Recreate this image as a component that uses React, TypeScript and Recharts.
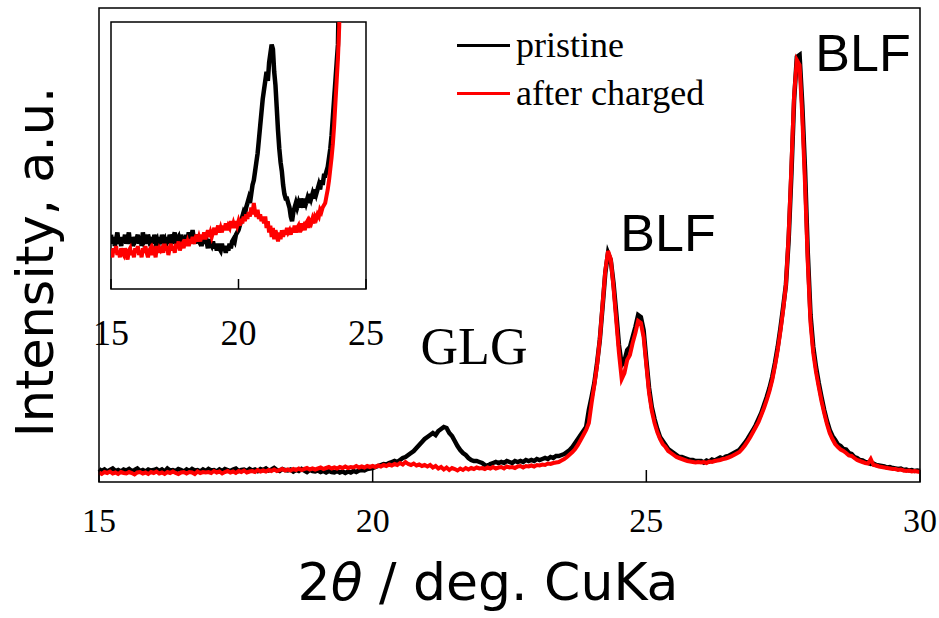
import React from "react";
import { LineChart, Line, XAxis, YAxis, ReferenceArea, Legend } from "recharts";

// 2θ grid, 15–30 deg in 0.05 deg steps
const theta: number[] = Array.from({ length: 301 }, (_, i) => Math.round((15 + i * 0.05) * 100) / 100);

// intensity (arbitrary units), one row per degree
const pristine: number[] = [
  16, 14, 15.5, 13.5, 15, 16.5, 14, 15, 13.5, 15.5, 14.5, 16, 14, 15, 16.5, 14, 15, 13.5, 15.5, 14.5,
  15, 16, 14, 15.5, 13.5, 16.5, 14.5, 15, 14, 16, 15, 13.5, 15.5, 14, 16, 14.5, 15, 13.5, 15.5, 14,
  16, 14.5, 15, 13.5, 15.5, 14, 16, 15, 14, 15.5, 16.5, 14, 15, 15.5, 14, 16, 14.5, 15.5, 14, 16,
  15, 16.5, 14.5, 15.5, 17, 15, 14, 16, 15, 14.5, 15.5, 13.5, 15, 14, 16, 14.5, 13, 15, 14, 13.5,
  14.5, 13, 14, 12.5, 14, 13, 12.5, 14, 12.5, 13.5, 12, 13.5, 12.5, 14, 13, 14.5, 15, 14.5, 16, 16.5,
  17, 18, 19, 20, 21, 20.5, 22, 23, 24, 23, 25, 27, 28, 30, 32, 34, 37, 40, 43, 46,
  48, 50, 52, 50, 54, 56, 58, 57, 52, 49, 44, 39, 35, 32, 30, 27, 25, 24, 24, 23,
  22, 20, 19, 21, 22, 23, 22, 23, 22, 24, 23, 22, 24, 23, 24, 23, 25, 24, 25, 24,
  26, 25, 26, 27, 26, 28, 27, 29, 29, 30, 31, 33, 35, 38, 42, 46, 50, 54, 58, 75,
  88, 102, 122, 145, 178, 212, 232, 225, 202, 172, 140, 120, 124, 135, 138, 148, 158, 170, 168, 155,
  125, 97, 78, 66, 56, 48, 44, 40, 36, 34, 32, 30, 28, 28, 27, 26, 25, 25, 24, 24,
  24, 22.5, 24.5, 23.5, 25.5, 24.5, 26, 27.5, 26.5, 28.5, 29, 30.5, 32, 33.5, 35, 38.5, 42, 46, 50.5, 55,
  60, 66, 72, 80, 88, 97, 108, 122, 138, 157, 178, 200, 245, 310, 385, 428, 430, 380, 315, 232,
  170, 138, 118, 102, 88, 75, 64, 55, 49, 45, 40.5, 39, 36, 35.5, 32, 31, 28, 27, 25, 24.5,
  23, 22.5, 21, 21.5, 20, 19.5, 19, 18.5, 17.5, 18, 17, 16.5, 16, 16.5, 15, 15.5, 14.5, 15, 14, 14.5,
  14,
];

const afterCharged: number[] = [
  12.5, 11, 13, 12, 13.5, 11.5, 12.5, 11, 13, 12, 11.5, 13, 12, 10.5, 12.5, 13, 11.5, 12.5, 11, 13,
  12, 13.5, 11.5, 12.5, 11, 13, 12, 13.5, 12, 11, 12.5, 13, 11.5, 13, 12.5, 11, 13.5, 12, 13, 12.5,
  13, 12, 14, 12.5, 13.5, 11.5, 13, 14, 12.5, 13.5, 12, 14, 13, 14.5, 12.5, 13.5, 14, 13, 15, 13.5,
  14.5, 13.5, 15, 14, 15.5, 14, 15, 16, 14.5, 15.5, 14.5, 16, 15, 16.5, 15, 16, 17, 15.5, 16.5, 15.5,
  16.5, 17.5, 16, 17, 18, 16.5, 17.5, 16.5, 18, 17, 18.5, 17, 18, 17.5, 19, 17.5, 18.5, 17.5, 19, 18,
  19, 18, 19.5, 18.5, 20, 19, 20.5, 19.5, 21, 20, 22, 20.5, 23, 21, 20, 21.5, 19.5, 20.5, 19, 20,
  18.5, 20, 17.5, 19, 16.5, 18, 15.5, 17.5, 15, 17, 16, 14.5, 16.5, 15, 17, 15.5, 17, 16, 17.5, 16.5,
  17, 16, 17.5, 16.5, 18, 16.5, 17.5, 18, 16.5, 18.5, 17.5, 18, 17, 18.5, 19, 17.5, 19, 18.5, 19.5, 18.5,
  20, 19.5, 20.5, 20, 21.5, 21, 22, 22.5, 23, 24.5, 26, 28, 30.5, 33, 36, 40, 45, 50, 55, 62,
  82, 100, 120, 146, 180, 214, 234, 226, 198, 165, 132, 106, 112, 125, 130, 142, 152, 164, 162, 148,
  120, 92, 74, 62, 53, 46, 41, 38, 34, 32, 30, 28, 27, 26, 25, 24, 23.5, 23, 22.5, 23,
  22.5, 23, 22, 23.5, 23, 24, 24.5, 25, 26, 26.5, 27.5, 28.5, 30, 31.5, 33, 36, 39.5, 43.5, 48, 53,
  58, 63, 70, 77, 85, 94, 105, 119, 135, 154, 175, 200, 250, 318, 390, 425, 420, 368, 300, 222,
  162, 132, 113, 98, 84, 72, 61, 52, 46, 41, 38, 35.5, 34, 32, 29.5, 29, 27, 25, 24, 23,
  22, 21.5, 26, 20, 19.5, 18.5, 18, 17.5, 17, 16.5, 16, 16, 15, 15.5, 14.5, 14, 14.5, 13.5, 14, 13.5,
  13,
];

const seriesNames = ["pristine", "after charged"];
const mainTicks = [15, 20, 25, 30];
const insetTicks = [15, 20, 25];

const data = theta.map((t, i) => ({ theta: t, pristine: pristine[i], charged: afterCharged[i] }));
const insetData = data.filter((d) => d.theta <= 25.2);

const SERIF = '"Liberation Serif", "Times New Roman", serif';
const SANS = '"Liberation Sans", Arial, sans-serif';
const DEJAVU = '"DejaVu Sans", Verdana, sans-serif';

function makeTick(len: number, gap: number, size: number) {
  return (props: any) => {
    const { x, y, payload } = props;
    return (
      <g>
        <line x1={x} y1={y} x2={x} y2={y - len} stroke="#000" strokeWidth={1.5} />
        <text x={x} y={y + gap} textAnchor="middle" dominantBaseline="central" fontFamily={SERIF} fontSize={size} fill="#000">
          {payload.value}
        </text>
      </g>
    );
  };
}

function LegendBox({ payload }: any) {
  const items = seriesNames
    .map((n) => (payload || []).find((p: any) => p.value === n))
    .filter(Boolean);
  return (
    <div>
      {items.map((p: any) => (
        <div key={p.value} style={{ display: "flex", alignItems: "center", height: 48 }}>
          <span style={{ display: "inline-block", width: 53, height: 3, background: p.color, marginRight: 6 }} />
          <span style={{ fontFamily: SERIF, fontSize: 36, lineHeight: "48px", color: "#000", whiteSpace: "nowrap" }}>
            {p.value}
          </span>
        </div>
      ))}
    </div>
  );
}

export default function App() {
  return (
    <div style={{ position: "absolute", left: 0, top: 0, width: 939, height: 618, background: "#fff", overflow: "hidden" }}>
      <div style={{ position: "absolute", left: 0, top: 0 }}>
        <LineChart width={939} height={618} data={data} margin={{ top: 8, right: 19, bottom: 76, left: 99 }}>
          <XAxis
            dataKey="theta"
            type="number"
            domain={[15, 30]}
            ticks={mainTicks}
            interval={0}
            height={60}
            axisLine={false}
            tickLine={false}
            tickSize={0}
            tickMargin={0}
            tick={makeTick(12, 38, 34)}
          />
          <YAxis hide type="number" domain={[3, 477]} allowDataOverflow />
          <ReferenceArea x1={15} x2={30} y1={3} y2={477} fill="none" stroke="#000" strokeWidth={1.5} ifOverflow="visible" />
          <Line type="linear" dataKey="pristine" name={seriesNames[0]} stroke="#000" strokeWidth={4.5} dot={false} isAnimationActive={false} />
          <Line type="linear" dataKey="charged" name={seriesNames[1]} stroke="#ff0000" strokeWidth={4} dot={false} isAnimationActive={false} />
          <Legend
            layout="vertical"
            align="center"
            verticalAlign="middle"
            content={<LegendBox />}
            wrapperStyle={{ left: 457, top: 21, width: 320 }}
          />
        </LineChart>
      </div>

      <div style={{ position: "absolute", left: 0, top: 0 }}>
        <LineChart width={400} height={390} data={insetData} margin={{ top: 22, right: 34, bottom: 41, left: 111 }}>
          <XAxis
            dataKey="theta"
            type="number"
            domain={[15, 25]}
            allowDataOverflow
            ticks={insetTicks}
            interval={0}
            height={60}
            axisLine={false}
            tickLine={false}
            tickSize={0}
            tickMargin={0}
            tick={makeTick(10, 44, 36)}
          />
          <YAxis hide type="number" domain={[4, 63]} allowDataOverflow />
          <ReferenceArea x1={15} x2={25} y1={4} y2={63} fill="#fff" stroke="#000" strokeWidth={1.5} ifOverflow="visible" />
          <Line type="linear" dataKey="pristine" stroke="#000" strokeWidth={4.5} dot={false} isAnimationActive={false} />
          <Line type="linear" dataKey="charged" stroke="#ff0000" strokeWidth={4} dot={false} isAnimationActive={false} />
        </LineChart>
      </div>

      <svg width={939} height={618} style={{ position: "absolute", left: 0, top: 0, pointerEvents: "none" }}>
        <text x={863} y={53} textAnchor="middle" dominantBaseline="central" fontFamily={SANS} fontSize={52}>BLF</text>
        <text x={668} y={233} textAnchor="middle" dominantBaseline="central" fontFamily={SANS} fontSize={52}>BLF</text>
        <text x={474} y={346} textAnchor="middle" dominantBaseline="central" fontFamily={SERIF} fontSize={52}>GLG</text>
        <text
          x={35}
          y={262}
          textAnchor="middle"
          dominantBaseline="central"
          fontFamily={DEJAVU}
          fontSize={51}
          transform="rotate(-90 35 262)"
        >
          Intensity, a.u.
        </text>
        <text x={488} y={582} textAnchor="middle" dominantBaseline="central" fontFamily={DEJAVU} fontSize={52}>
          2<tspan fontStyle="italic">θ</tspan> / deg. CuKa
        </text>
      </svg>
    </div>
  );
}
